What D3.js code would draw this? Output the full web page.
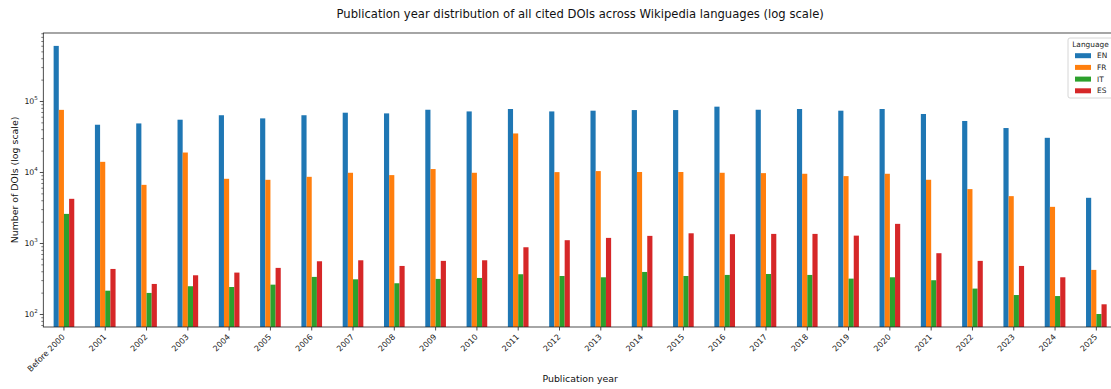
<!DOCTYPE html>
<html>
<head>
<meta charset="utf-8">
<script src="https://cdn.jsdelivr.net/npm/d3@7"></script>
<style>
  html, body { margin: 0; padding: 0; background: #fff; }
  svg { display: block; font-family: "DejaVu Sans", sans-serif; }
</style>
</head>
<body>
<svg id="chart" width="1111" height="389"></svg>
<script>
const categories = ["Before 2000","2001","2002","2003","2004","2005","2006","2007","2008","2009","2010","2011","2012","2013","2014","2015","2016","2017","2018","2019","2020","2021","2022","2023","2024","2025"];
const seriesNames = ["EN","FR","IT","ES"];
const EN = [597000,46300,48300,54500,63000,56900,63000,68400,66900,75300,71300,77100,71300,73000,74500,74500,83200,75300,77100,73000,77100,65600,52300,41600,30300,4330];
const FR = [75000,13900,6590,18800,8020,7760,8550,9750,9040,11000,9750,34900,9960,10300,10000,10000,9750,9640,9440,8750,9440,7770,5740,4570,3230,418];
const IT = [2570,213,198,246,240,259,333,308,271,312,322,363,343,329,391,343,355,366,355,315,329,299,228,185,179,100];
const ES = [4190,431,265,351,383,446,553,571,475,560,571,871,1095,1180,1260,1370,1330,1343,1343,1270,1860,718,560,475,329,137];
const yTickValues = [100, 1000, 10000, 100000];
const yTickExponents = ["2","3","4","5"];
const colors = ["#1f77b4","#ff7f0e","#2ca02c","#d62728"];
const titleText = "Publication year distribution of all cited DOIs across Wikipedia languages (log scale)";
const xLabelText = "Publication year";
const yLabelText = "Number of DOIs (log scale)";
const legendTitle = "Language";

(function () {
const seriesValues = [EN, FR, IT, ES];

const svg = d3.select("#chart");
const pl = 43.3, pr = 1117, pt = 33, pb = 327;

const x = d3.scaleBand().domain(categories).range([pl, pr]).paddingInner(0.5).paddingOuter(0.25);
const xs = d3.scaleBand().domain(seriesNames).range([0, x.bandwidth()]);
const y = d3.scaleLog().domain([65.6, 907000]).range([pb, pt]);

// bars
const g = svg.append("g");
seriesNames.forEach((s, j) => {
  g.selectAll(null).data(categories).enter().append("rect")
    .attr("x", c => x(c) + xs(s))
    .attr("width", xs.bandwidth())
    .attr("y", (c, i) => y(seriesValues[j][i]))
    .attr("height", (c, i) => pb - y(seriesValues[j][i]))
    .attr("fill", colors[j]);
});

// frame
svg.append("rect").attr("x", pl).attr("y", pt).attr("width", pr - pl).attr("height", pb - pt)
  .attr("fill", "none").attr("stroke", "#222").attr("stroke-width", 0.8);

// y axis
const yAxis = d3.axisLeft(y).tickValues(yTickValues).tickSize(3.5).tickFormat("");
const ya = svg.append("g").attr("transform", `translate(${pl},0)`).call(yAxis);
ya.select(".domain").remove();
ya.selectAll("line").attr("stroke", "#222").attr("stroke-width", 0.8);
const minor = [];
for (let e = 1; e <= 5; e++) for (let m = 2; m <= 9; m++) { const v = m * Math.pow(10, e); if (v >= 65.6 && v <= 907000) minor.push(v); }
const yMinor = d3.axisLeft(y).tickValues(minor).tickSize(2).tickFormat("");
const ym = svg.append("g").attr("transform", `translate(${pl},0)`).call(yMinor);
ym.select(".domain").remove();
ym.selectAll("line").attr("stroke", "#222").attr("stroke-width", 0.6);

yTickValues.forEach((v, i) => {
  const t = svg.append("text").attr("x", pl - 5.5).attr("y", y(v) + 3).attr("text-anchor", "end")
    .attr("font-size", 7.8).attr("fill", "#222");
  t.append("tspan").text("10");
  t.append("tspan").attr("dy", -3.6).attr("font-size", 5.5).text(yTickExponents[i]);
});

// x axis
const xAxis = d3.axisBottom(x).tickSize(3.5).tickSizeOuter(0);
const xa = svg.append("g").attr("transform", `translate(0,${pb})`).call(xAxis);
xa.select(".domain").remove();
xa.selectAll("line").attr("stroke", "#222").attr("stroke-width", 0.8);
xa.selectAll("text")
  .attr("font-size", 8).attr("fill", "#222").attr("font-family", "DejaVu Sans, sans-serif")
  .attr("text-anchor", "end").attr("dy", null).attr("y", 0)
  .attr("transform", "translate(1.5,10.5) rotate(-45)");

// labels
svg.append("text").attr("x", (pl + pr) / 2).attr("y", 18).attr("text-anchor", "middle")
  .attr("font-size", 11.6).attr("fill", "#111").text(titleText);
svg.append("text").attr("x", (pl + pr) / 2).attr("y", 382).attr("text-anchor", "middle")
  .attr("font-size", 9.4).attr("fill", "#111").text(xLabelText);
svg.append("text").attr("transform", `translate(18,${(pt + pb) / 2}) rotate(-90)`).attr("text-anchor", "middle")
  .attr("font-size", 9.4).attr("fill", "#111").text(yLabelText);

// legend
const lg = svg.append("g");
lg.append("rect").attr("x", 1068).attr("y", 38).attr("width", 46).attr("height", 60).attr("rx", 2)
  .attr("fill", "#fff").attr("fill-opacity", 0.8).attr("stroke", "#ccc").attr("stroke-width", 0.8);
lg.append("text").attr("x", 1090.5).attr("y", 46.5).attr("text-anchor", "middle").attr("font-size", 7.4).attr("fill", "#222").text(legendTitle);
seriesNames.forEach((s, j) => {
  const yy = 55.7 + j * 11.7;
  lg.append("rect").attr("x", 1075).attr("y", yy - 2.5).attr("width", 16).attr("height", 5).attr("fill", colors[j]);
  lg.append("text").attr("x", 1097).attr("y", yy + 2.6).attr("font-size", 7.4).attr("fill", "#222").text(s);
});
})();
</script>
</body>
</html>
